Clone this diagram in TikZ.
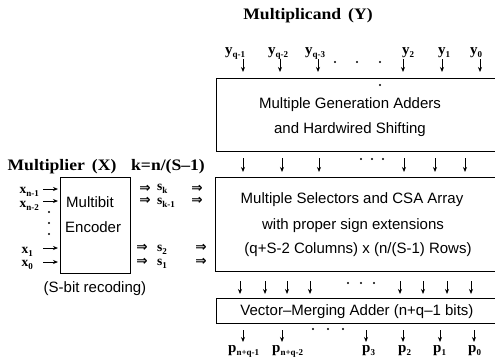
\documentclass[tikz,border=0pt]{standalone}
\usepackage{fontspec}
\setmainfont{Liberation Serif}
\newfontfamily\widefont[FakeStretch=1.1]{Liberation Serif}
\newfontfamily\boxfont{Liberation Sans}
\newfontfamily\arrfont{DejaVu Sans}
\usetikzlibrary{arrows.meta}
\newcommand{\sbs}[1]{\raisebox{-0.25em}{\fontsize{9}{9}\selectfont #1}}
\begin{document}
\begin{tikzpicture}[x=1pt,y=-1pt,
  box/.style={draw, line width=1.2pt, inner sep=0pt, anchor=north west},
  arr/.style={-{Stealth[length=5pt,width=4pt]}, line width=0.9pt},
  btxt/.style={font=\boxfont\fontsize{15}{16}\selectfont, anchor=base, inner sep=0pt},
  lbl/.style={font=\widefont\bfseries\fontsize{16}{17}\selectfont, anchor=base, inner sep=0pt},
  sym/.style={font=\bfseries\fontsize{15}{16}\selectfont, anchor=base west, inner sep=0pt},
  ssym/.style={sym, font=\bfseries\fontsize{13.5}{14}\selectfont},
  dbl/.style={font=\arrfont\bfseries\fontsize{13.5}{13.5}\selectfont, inner sep=0pt},
  dotm/.style={circle, fill, inner sep=0pt, minimum size=2.4pt}]
\useasboundingbox (0,0) rectangle (495,359);
\clip (0,0) rectangle (495,359);

% boxes
\node[box, minimum width=290pt, minimum height=73pt] (gen) at (216,78) {};
\node[box, minimum width=290pt, minimum height=94pt] (csa) at (215,177) {};
\node[box, minimum width=290pt, minimum height=25pt] (vma) at (216,298) {};
\node[box, minimum width=70pt, minimum height=96pt] (enc) at (60,177) {};

% box texts
\node[btxt] (g1) at (350,108) {Multiple Generation Adders};
\node[btxt] (g2) at (350,133) {and Hardwired Shifting};
\node[btxt] (c1) at (352,203) {Multiple Selectors and CSA Array};
\node[btxt] (c2) at (353,229) {with proper sign extensions};
\node[btxt] (c3) at (358,253) {(q+S-2 Columns) x (n/(S-1) Rows)};
\node[btxt] (v1) at (357,315) {Vector–Merging Adder (n+q–1 bits)};
\node[btxt, anchor=base west] (e1) at (66,207) {Multibit};
\node[btxt, anchor=base west] (e2) at (65,232) {Encoder};
\node[btxt] (rec) at (95,292) {(S-bit recoding)};

% headings
\node[lbl] (mcand) at (308,19) {Multiplicand \,(Y)};
\node[lbl] (mplier) at (62,170) {Multiplier \,(X)};
\node[lbl] (kdef) at (168,170) {k=n/(S–1)};

% y inputs
\node[sym] (y1) at (225,54) {y\sbs{q-1}};
\node[sym] (y2) at (268,54) {y\sbs{q-2}};
\node[sym] (y3) at (305,54) {y\sbs{q-3}};
\node[sym] (y4) at (402,54) {y\sbs{2}};
\node[sym] (y5) at (438,54) {y\sbs{1}};
\node[sym] (y6) at (470,54) {y\sbs{0}};
\foreach \x [count=\i] in {243,280,318,403,442,480}{
  \coordinate (ya\i) at (\x,59); \coordinate (yb\i) at (\x,72);
  \draw[arr] (ya\i) -- (yb\i);}
\foreach \x [count=\i] in {335,357,380}{\node[dotm] (yd\i) at (\x,62) {};}
\node[dotm] (gd) at (380,85) {};

% gen -> csa
\foreach \x [count=\i] in {243,282,319,404,435,465}{
  \coordinate (ga\i) at (\x,158); \coordinate (gb\i) at (\x,172);
  \draw[arr] (ga\i) -- (gb\i);}
\foreach \x [count=\i] in {361,372,383}{\node[dotm] (gdd\i) at (\x,159) {};}

% x inputs
\node[ssym, anchor=base east] (x1) at (39,193) {x\sbs{n-1}};
\node[ssym, anchor=base east] (x2) at (39,207) {x\sbs{n-2}};
\node[ssym, anchor=base east] (x3) at (33,253) {x\sbs{1}};
\node[ssym, anchor=base east] (x4) at (33,266) {x\sbs{0}};
\foreach \y [count=\i] in {189,201,248,262}{
  \coordinate (xa\i) at (43,\y); \coordinate (xb\i) at (58,\y);
  \draw[arr] (xa\i) -- (xb\i);}
\foreach \y [count=\i] in {212,223,234}{\node[dotm] (xd\i) at (49,\y) {};}

% s outputs
\node[dbl] (r1a) at (145,189) {⇒};
\node[dbl] (r2a) at (145,201) {⇒};
\node[dbl] (r3a) at (142,248) {⇒};
\node[dbl] (r4a) at (142,262) {⇒};
\node[dbl] (r1b) at (197,189) {⇒};
\node[dbl] (r2b) at (197,201) {⇒};
\node[dbl] (r3b) at (201,248) {⇒};
\node[dbl] (r4b) at (201,262) {⇒};
\node[ssym] (s1) at (157,190) {s\sbs{k}};
\node[ssym] (s2) at (157,204) {s\sbs{k-1}};
\node[ssym] (s3) at (157,251) {s\sbs{2}};
\node[ssym] (s4) at (157,265) {s\sbs{1}};

% csa -> vma
\foreach \x [count=\i] in {240,265,287,310,400,423,447,471}{
  \coordinate (ca\i) at (\x,281); \coordinate (cb\i) at (\x,294);
  \draw[arr] (ca\i) -- (cb\i);}
\foreach \x [count=\i] in {348,361,374}{\node[dotm] (cd\i) at (\x,283) {};}

% outputs
\foreach \x [count=\i] in {243,282,366,403,440,474}{
  \coordinate (pa\i) at (\x,330); \coordinate (pb\i) at (\x,342);
  \draw[arr] (pa\i) -- (pb\i);}
\foreach \x [count=\i] in {313,328,343}{\node[dotm] (pd\i) at (\x,329) {};}
\node[sym] (p1) at (228,352) {p\sbs{n+q-1}};
\node[sym] (p2) at (272,352) {p\sbs{n+q-2}};
\node[sym] (p3) at (362,352) {p\sbs{3}};
\node[sym] (p4) at (398,352) {p\sbs{2}};
\node[sym] (p5) at (433,352) {p\sbs{1}};
\node[sym] (p6) at (468,352) {p\sbs{0}};
\end{tikzpicture}
\end{document}
